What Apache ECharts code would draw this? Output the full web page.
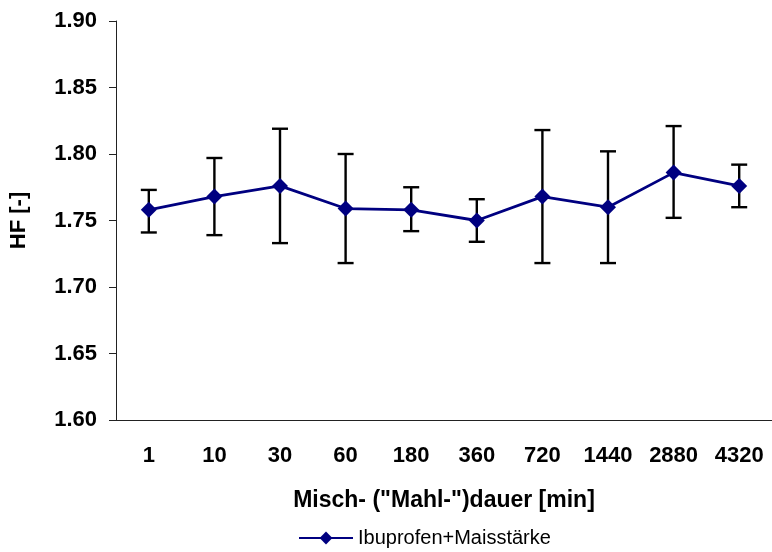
<!DOCTYPE html>
<html>
<head>
<meta charset="utf-8">
<script src="https://cdn.jsdelivr.net/npm/echarts@6/dist/echarts.min.js"></script>
<style>
  html, body { margin: 0; padding: 0; background: #fff; }
  #chart { width: 772px; height: 552px; }
</style>
</head>
<body>
<div id="chart"></div>
<script>
// Mixing (milling) duration in minutes
const durations = ['1', '10', '30', '60', '180', '360', '720', '1440', '2880', '4320'];
// Hausner factor, mean values
const hfMean = [1.758, 1.768, 1.776, 1.759, 1.758, 1.750, 1.768, 1.760, 1.786, 1.776];
// Upper and lower ends of the error bars
const hfUpper = [1.773, 1.797, 1.819, 1.800, 1.775, 1.766, 1.818, 1.802, 1.821, 1.792];
const hfLower = [1.741, 1.739, 1.733, 1.718, 1.742, 1.734, 1.718, 1.718, 1.752, 1.760];
const yTicks = { min: 1.60, max: 1.90, interval: 0.05 };
const seriesName = 'Ibuprofen+Maisstärke';

const errorData = durations.map((d, i) => [i, hfLower[i], hfUpper[i]]);

const chart = echarts.init(document.getElementById('chart'), null, { renderer: 'canvas' });

const font = '"Liberation Sans", Arial, sans-serif';

chart.setOption({
  animation: false,
  backgroundColor: '#ffffff',
  grid: { left: 113, top: 21, width: 664, height: 399, containLabel: false },
  xAxis: {
    type: 'category',
    data: durations,
    boundaryGap: true,
    name: 'Misch- ("Mahl-")dauer [min]',
    nameLocation: 'middle',
    nameGap: 69,
    nameTextStyle: { fontFamily: font, fontWeight: 'bold', fontSize: 23, color: '#000' },
    axisLine: { lineStyle: { color: '#222', width: 1 } },
    axisTick: { alignWithLabel: false, length: 8, lineStyle: { color: '#222' } },
    axisLabel: { fontFamily: font, fontWeight: 'bold', fontSize: 22, color: '#000', margin: 25 },
    splitLine: { show: false }
  },
  yAxis: {
    type: 'value',
    min: yTicks.min,
    max: yTicks.max,
    interval: yTicks.interval,
    name: 'HF [-]',
    nameLocation: 'middle',
    nameGap: 86,
    nameRotate: 90,
    nameTextStyle: { fontFamily: font, fontWeight: 'bold', fontSize: 22, color: '#000' },
    axisLine: { show: true, lineStyle: { color: '#222', width: 1 } },
    axisTick: { show: true, length: 7, lineStyle: { color: '#222' } },
    axisLabel: {
      fontFamily: font, fontWeight: 'bold', fontSize: 22, color: '#000', margin: 19,
      formatter: v => v.toFixed(2)
    },
    splitLine: { show: false }
  },
  legend: {
    top: 528,
    left: 298,
    padding: 0,
    itemWidth: 54,
    itemHeight: 16,
    itemGap: 4,
    textStyle: { fontFamily: font, fontSize: 20, color: '#000' },
    data: [{ name: seriesName }]
  },
  series: [
    {
      name: 'errors',
      type: 'custom',
      data: errorData,
      z: 1,
      renderItem: (params, api) => {
        const i = api.value(0);
        const lo = api.coord([i, api.value(1)]);
        const hi = api.coord([i, api.value(2)]);
        const half = 8;
        const style = { stroke: '#000', lineWidth: 2.4, fill: null };
        return {
          type: 'group',
          children: [
            { type: 'line', shape: { x1: hi[0], y1: hi[1], x2: lo[0], y2: lo[1] }, style },
            { type: 'line', shape: { x1: hi[0] - half, y1: hi[1], x2: hi[0] + half, y2: hi[1] }, style },
            { type: 'line', shape: { x1: lo[0] - half, y1: lo[1], x2: lo[0] + half, y2: lo[1] }, style }
          ]
        };
      },
      encode: { x: 0, y: [1, 2] },
      silent: true
    },
    {
      name: seriesName,
      type: 'line',
      data: hfMean,
      z: 3,
      symbol: 'diamond',
      symbolSize: 16,
      lineStyle: { color: '#000080', width: 2.8 },
      itemStyle: { color: '#000080' }
    }
  ]
});
</script>
</body>
</html>
